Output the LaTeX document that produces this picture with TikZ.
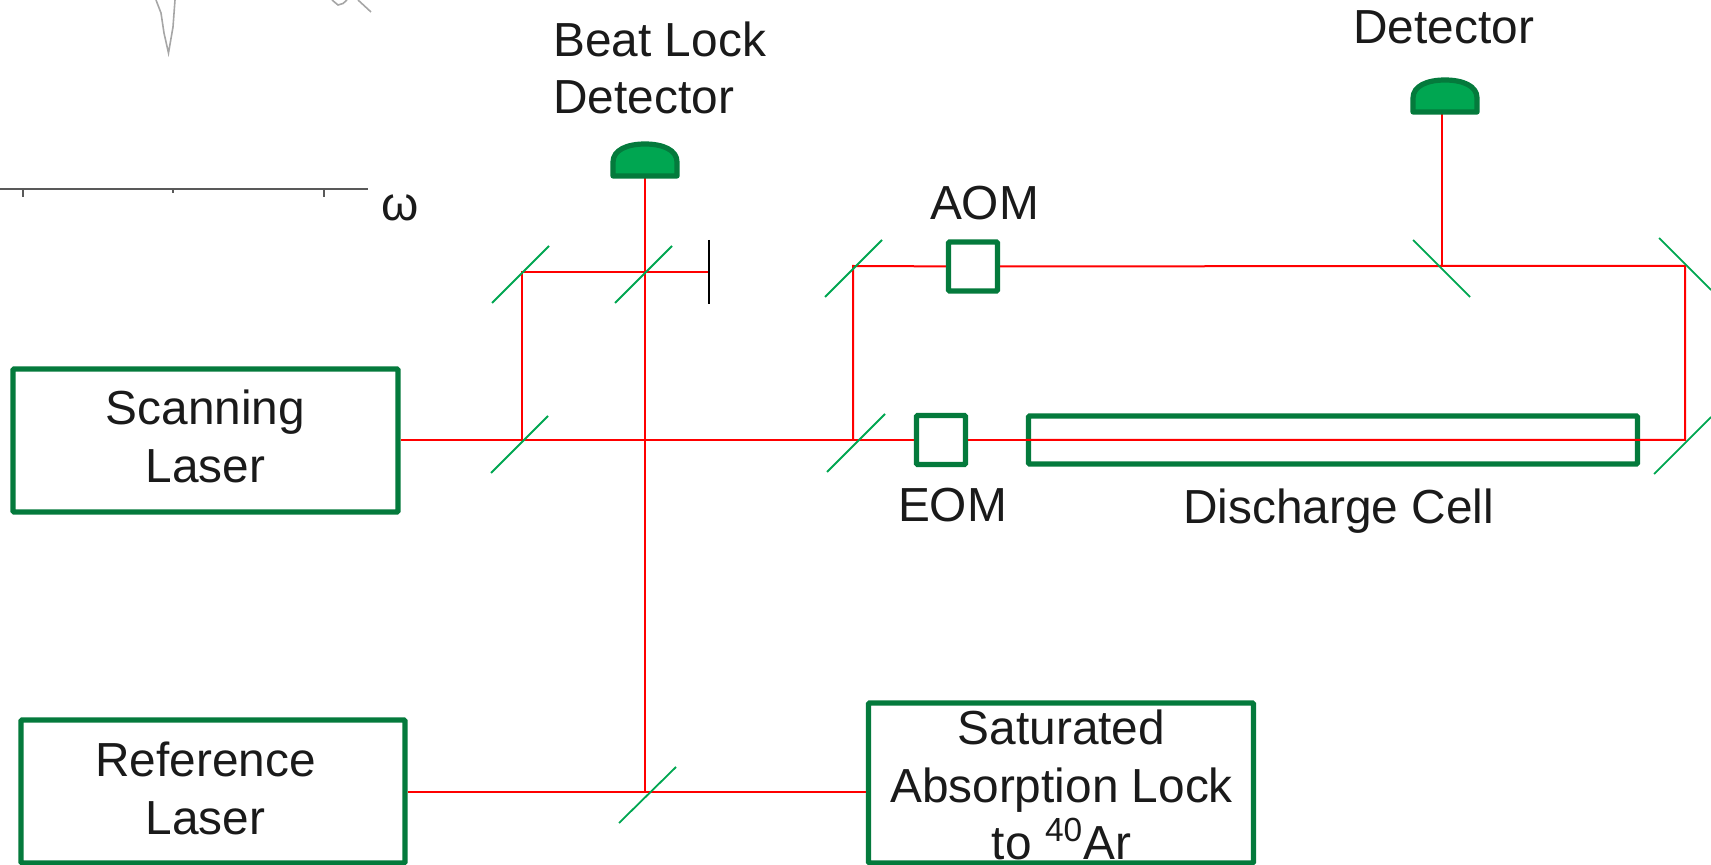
\documentclass[tikz,border=0pt]{standalone}
\usepackage{fontspec}
\setmainfont{Liberation Sans}
\usetikzlibrary{positioning}
\definecolor{boxgreen}{HTML}{047A3C}
\definecolor{mirrorgreen}{HTML}{00A651}
\definecolor{beamred}{HTML}{FF0000}
\definecolor{inkblack}{HTML}{1A1A1A}
\tikzset{
	txt/.style={font=\fontsize{23.9}{28.8}\selectfont, text=inkblack, inner sep=0pt, align=center},
	box/.style={draw=boxgreen, line width=2.6pt, rounded corners=0.5pt, inner sep=0pt},
	beam/.style={draw=beamred, line width=1pt},
	mirror/.style={draw=mirrorgreen, line width=0.9pt},
	detector/.style={draw=boxgreen, fill=mirrorgreen, line width=2.6pt, line join=round},
	axisline/.style={draw=black!65, line width=0.9pt}
}
\begin{document}
\begin{tikzpicture}[x=0.5pt, y=-0.5pt]
	\useasboundingbox (0, 0) rectangle (1711, 865);

	% spectrum left over at the top corner
	\draw[black!35, line width=0.8pt] (156, 0) -- (161, 13) -- (164, 33) -- (168.5, 53) -- (173, 27) -- (175, 0);
	\draw[black!35, line width=0.8pt] (332, 0) -- (338, 5) -- (343, 3.5) -- (347, 0);
	\draw[black!35, line width=0.8pt] (358, 0) -- (371, 12);
	\draw[axisline] (0, 189) -- (368, 189);
	\foreach \tx/\ty in {23/197, 173/193, 324/197}
		\draw[axisline] (\tx, 189) -- (\tx, \ty);
	\node[txt] (omega) at (400, 208) {ω};

	% boxes
	\node[box, minimum width=192.5pt, minimum height=71.5pt] (scanning) at (205.5, 440.5) {};
	\node[box, minimum width=192pt, minimum height=71.5pt] (reference) at (213, 791.5) {};
	\node[box, minimum width=192.5pt, minimum height=80pt] (satabs) at (1061, 783) {};
	\node[box, minimum width=24.5pt, minimum height=24.5pt] (aom) at (973, 266.5) {};
	\node[box, minimum width=24.5pt, minimum height=24.5pt] (eom) at (941, 440) {};
	\node[box, minimum width=304.5pt, minimum height=24pt] (cell) at (1333, 440) {};

	% mirrors, bottom left end to top right end
	\coordinate (m1) at (522, 440);
	\coordinate (m2) at (522, 272);
	\coordinate (m3) at (645, 272);
	\coordinate (m4) at (853, 440);
	\coordinate (m5) at (853, 266);
	\coordinate (m6) at (1442, 266);
	\coordinate (m7) at (1685, 266);
	\coordinate (m8) at (1685, 440);
	\coordinate (m9) at (645, 792);
	\coordinate (stop) at (709, 272);
	\coordinate (det1) at (645, 178);
	\coordinate (det2) at (1445, 114);

	% beams
	\draw[beam] (scanning.east |- m1) -- (m1) -- (m4) -- (eom);
	\draw[beam] (eom) -- (cell.west |- eom);
	\draw[beam] (cell.west |- m8) -- (m8) -- (m7) -- (m6) -- (aom);
	\draw[beam] (aom) -- (m5) -- (m4);
	\draw[beam] (m1) -- (m2) -- (m3) -- (stop);
	\draw[beam] (det1) -- (m3) -- (m9);
	\draw[beam] (reference.east |- m9) -- (m9) -- (satabs.west |- m9);
	\draw[beam] (det2 -| m6) -- (m6);

	\draw[mirror] (491, 473) -- (548, 416);
	\draw[mirror] (492, 303) -- (549, 246);
	\draw[mirror] (615, 303) -- (672, 246);
	\draw[mirror] (827, 472) -- (885, 414);
	\draw[mirror] (825, 297) -- (882, 240);
	\draw[mirror] (1413, 240) -- (1470, 297);
	\draw[mirror] (1659, 238) -- (1711, 290);
	\draw[mirror] (1654, 474) -- (1711, 417);
	\draw[mirror] (619, 823) -- (676, 767);
	\draw[black, line width=1pt] (709, 240) -- (709, 304);

	% detectors
	\foreach \d in {det1, det2}
		\draw[detector] (\d) ++(-32, -2) -- ++(0, -14) .. controls +(0, -12) and +(-18, 0) .. ++(32, -18)
			.. controls +(18, 0) and +(0, -12) .. ++(32, 18) -- ++(0, 14) -- cycle;

	% labels
	\node[txt, align=left, anchor=north west] (beatlock) at (553, 21) {Beat Lock\\Detector};
	\node[txt, anchor=base west] (dettop) at (1353, 44) {Detector};
	\node[txt, anchor=base] (aomlabel) at (984.5, 220) {AOM};
	\node[txt, anchor=base] (eomlabel) at (952.5, 521) {EOM};
	\node[txt, anchor=base] (celllabel) at (1338.5, 523) {Discharge Cell};
	\node[txt] (scanlabel) at (205.5, 436.5) {Scanning\\Laser};
	\node[txt] (reflabel) at (205.5, 788.5) {Reference\\Laser};
	\node[txt] (satlabel) at (1061.5, 785) {Saturated\\Absorption Lock\\to \textsuperscript{40}Ar};
\end{tikzpicture}
\end{document}
